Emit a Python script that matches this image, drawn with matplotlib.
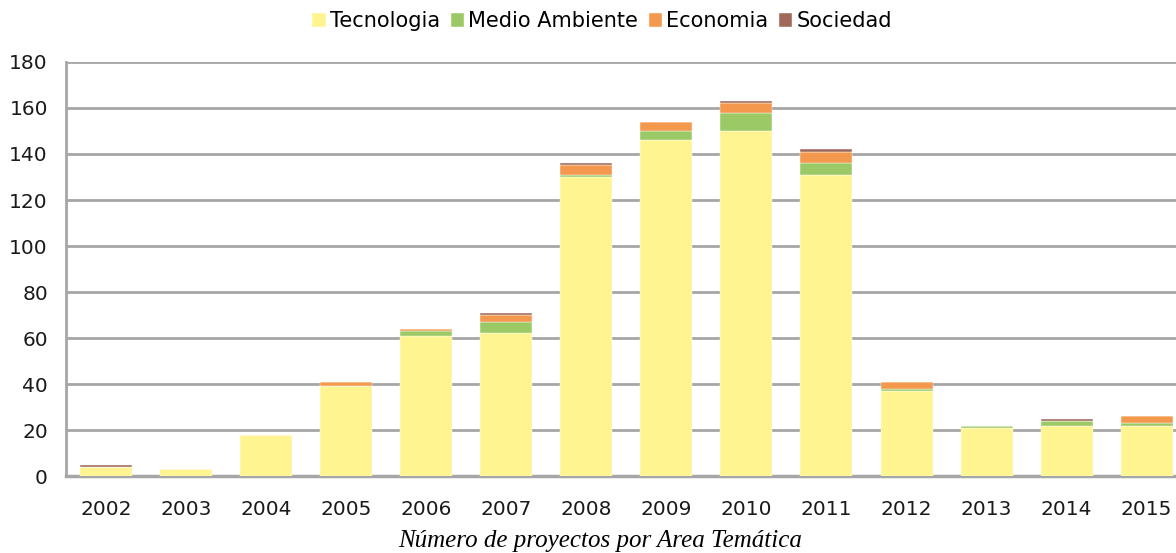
import numpy as np
import matplotlib
matplotlib.use('Agg')
import matplotlib.pyplot as plt

# datos
years = ['2002', '2003', '2004', '2005', '2006', '2007', '2008',
         '2009', '2010', '2011', '2012', '2013', '2014', '2015']
tecnologia = [4, 3, 18, 39, 61, 62, 130, 146, 150, 131, 37, 21, 22, 22]
medio_ambiente = [0, 0, 0, 0, 2, 5, 1, 4, 8, 5, 1, 1, 2, 1]
economia = [0, 0, 0, 2, 1, 3, 4, 4, 4, 5, 3, 0, 0, 3]
sociedad = [1, 0, 0, 0, 0, 1, 1, 0, 1, 1, 0, 0, 1, 0]

series = [('Tecnologia', tecnologia, '#FFF48F'),
          ('Medio Ambiente', medio_ambiente, '#9BC965'),
          ('Economia', economia, '#F4984D'),
          ('Sociedad', sociedad, '#A0695A')]

plt.rcParams['font.family'] = ['DejaVu Sans']

fig = plt.figure(figsize=(11.76, 5.53), dpi=100)
ax = fig.add_axes([0.0561, 0.139, 0.953, 0.749])

x = np.arange(len(years))
bottom = np.zeros(len(years))
for name, vals, col in series:
    vals = np.array(vals)
    ax.bar(x, vals, width=0.65, bottom=bottom, color=col, label=name,
           edgecolor='white', linewidth=0.3, zorder=3)
    bottom += vals

ax.set_ylim(0, 180)
ax.set_xlim(-0.5, len(years) - 0.5)
ax.set_yticks(range(0, 181, 20))
ax.set_xticks(x)
ax.set_xticklabels(years)
ax.grid(axis='y', color='#A6A6A6', linewidth=2, zorder=0)
ax.tick_params(axis='x', length=0, labelsize=14.5, colors='#1a1a1a', pad=17)
ax.tick_params(axis='y', length=0, labelsize=14.5, colors='#1a1a1a', pad=13)
for s in ['top', 'right']:
    ax.spines[s].set_visible(False)
ax.spines['left'].set_color('#A6A6A6')
ax.spines['left'].set_linewidth(2)
ax.spines['bottom'].set_color('#A6A6A6')
ax.spines['bottom'].set_linewidth(2.5)

# titulo inferior
fig.text(0.51, 0.022, 'Número de proyectos por Area Temática', fontsize=18,
         family=['Liberation Serif', 'DejaVu Serif'], style='italic',
         ha='center', va='center')

fig.legend(loc='upper center', bbox_to_anchor=(0.512, 1.014), ncol=4,
           frameon=False, fontsize=15, handlelength=0.65, handleheight=0.65,
           handletextpad=0.2, columnspacing=0.5)

fig.savefig('out.png', dpi=100)
